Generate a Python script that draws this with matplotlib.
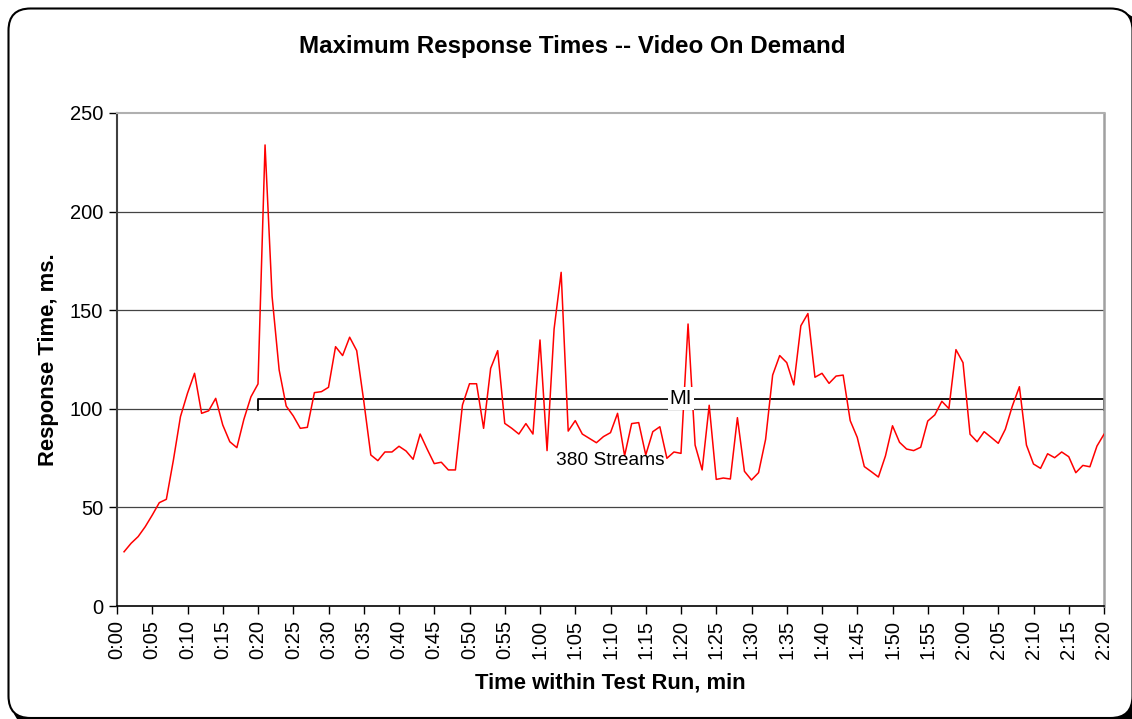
import matplotlib.pyplot as plt
from matplotlib.patches import FancyBboxPatch
from matplotlib.transforms import IdentityTransform

plt.rcParams['font.family'] = ['Liberation Sans', 'DejaVu Sans']

# minutes into the run, one sample per minute
minutes = list(range(1, 141))
response_ms = [
    27.5, 31.8, 35.2, 40.2, 46.1, 52.4, 54.1, 74.0, 96.0, 107.9,
    118.0, 97.7, 99.0, 105.3, 91.8, 83.3, 80.3, 94.7, 106.1, 112.6,
    233.8, 156.9, 119.7, 101.4, 96.4, 90.1, 90.6, 108.2, 108.7, 110.9,
    131.5, 127.0, 136.3, 129.5, 104.0, 76.6, 73.7, 78.1, 78.1, 81.0,
    78.6, 74.4, 87.2, 79.5, 72.2, 72.9, 69.0, 69.0, 101.9, 112.7,
    112.7, 90.1, 120.5, 129.5, 92.6, 90.1, 87.2, 92.5, 87.2, 134.9,
    78.8, 140.5, 169.2, 88.7, 94.0, 87.2, 85.0, 82.8, 85.9, 87.9,
    97.7, 76.2, 92.5, 93.0, 76.6, 88.4, 90.9, 74.9, 78.1, 77.4,
    143.0, 81.6, 69.0, 101.8, 64.2, 64.9, 64.4, 95.5, 68.3, 63.9,
    67.6, 84.5, 117.1, 127.0, 123.4, 112.1, 142.1, 148.3, 116.0, 118.0,
    112.9, 116.6, 117.1, 94.0, 85.5, 70.7, 68.1, 65.4, 76.1, 91.4,
    83.0, 79.6, 78.8, 80.5, 93.8, 96.9, 103.8, 100.1, 130.0, 123.4,
    87.1, 83.3, 88.4, 85.5, 82.5, 89.6, 101.4, 111.2, 81.6, 72.0,
    69.8, 77.2, 75.2, 78.1, 75.7, 67.6, 71.3, 70.6, 81.1, 87.1,
]

x_ticks = list(range(0, 141, 5))
x_labels = [f"{m // 60}:{m % 60:02d}" for m in x_ticks]
y_ticks = [0, 50, 100, 150, 200, 250]

# measurement interval bracket
mi_start, mi_end, mi_level, mi_foot = 20, 140, 105, 99.5

fig = plt.figure(figsize=(11.32, 7.19), dpi=100)

# rounded chart frame with a shadow at the corner
shadow = FancyBboxPatch((13, -6), 1126, 712, boxstyle="round,pad=0,rounding_size=22",
                        transform=IdentityTransform(), facecolor='black', edgecolor='black',
                        zorder=-2)
frame = FancyBboxPatch((8.5, 1), 1124, 709.5, boxstyle="round,pad=0,rounding_size=22",
                       transform=IdentityTransform(), facecolor='white', edgecolor='black',
                       linewidth=1.5, zorder=-1)
fig.patches.extend([shadow, frame])

ax = fig.add_axes([117 / 1132, 113 / 719, 987 / 1132, 493 / 719])
ax.set_facecolor('none')

ax.plot(minutes, response_ms, color='#ff0000', linewidth=1.1, zorder=3)

ax.set_xlim(0, 140)
ax.set_ylim(0, 250)
ax.set_xticks(x_ticks)
ax.set_xticklabels(x_labels, rotation=90, fontsize=14.5)
ax.set_yticks(y_ticks)
ax.tick_params(axis='y', labelsize=14.5, length=6, width=1, direction='out', pad=4)
ax.tick_params(axis='x', length=6, width=1, direction='out', pad=4)

for v in y_ticks[1:-1]:
    ax.axhline(v, color='#444444', linewidth=0.9, zorder=1)

ax.spines['left'].set_color('#404040')
ax.spines['left'].set_linewidth(1.5)
ax.spines['bottom'].set_color('black')
ax.spines['bottom'].set_linewidth(1.2)
ax.spines['top'].set_color('#b0b0b0')
ax.spines['top'].set_linewidth(1.5)
ax.spines['right'].set_color('#a0a0a0')
ax.spines['right'].set_linewidth(1.8)

# MI bracket
ax.plot([mi_start, mi_start, mi_end, mi_end], [mi_foot, mi_level, mi_level, mi_foot],
        color='black', linewidth=1.3, zorder=2, clip_on=False)
ax.text(80, mi_level, 'MI', fontsize=14.5, ha='center', va='center', zorder=4,
        bbox=dict(facecolor='white', edgecolor='none', pad=1.5))
ax.text(70, 74, '380 Streams', fontsize=13.8, ha='center', va='center', zorder=4)

fig.text(572 / 1132, 1 - 46 / 719, 'Maximum Response Times -- Video On Demand',
         fontsize=17.4, fontweight='bold', ha='center', va='center')
ax.set_xlabel('Time within Test Run, min', fontsize=15.8, fontweight='bold', labelpad=10)
ax.set_ylabel('Response Time, ms.', fontsize=15.8, fontweight='bold', labelpad=8)

fig.savefig('out.png', dpi=100)
